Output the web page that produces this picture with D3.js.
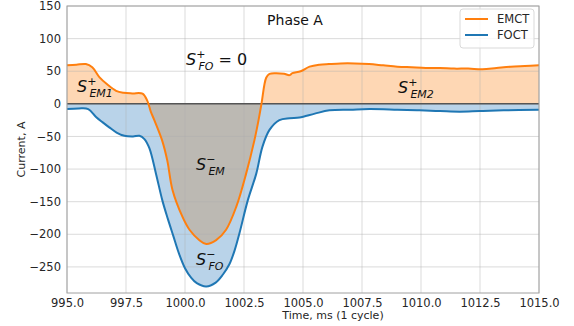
<!DOCTYPE html>
<html>
<head>
<meta charset="utf-8">
<script src="https://cdn.jsdelivr.net/npm/d3@7"></script>
<style>
  body { margin: 0; background: #fff; }
  text { font-family: "DejaVu Sans", sans-serif; }
</style>
</head>
<body>
<div id="chart"></div>
<script>
// Phase A - EMCT vs FOCT currents over one cycle

const width = 574,
    height = 326;
const margin = {top: 6, right: 35, bottom: 33, left: 67};

// readings
const emctTime = [995.0, 995.4, 995.8, 996.07, 996.37, 996.7, 997.08, 997.4, 997.77, 998.2, 998.4,
  998.55, 998.7, 999.03, 999.25, 999.47, 999.89, 1000.19, 1000.61, 1000.9, 1001.32, 1001.74,
  1002.17, 1002.59, 1002.94, 1003.1, 1003.24, 1003.44, 1003.58, 1003.86, 1004.2, 1004.43,
  1004.55, 1004.9, 1005.28, 1005.7, 1006.1, 1006.6, 1007.2, 1007.8, 1008.4, 1009.0, 1009.6,
  1010.2, 1010.8, 1011.4, 1012.0, 1012.6, 1013.2, 1013.8, 1014.4, 1015.0];
const emctValue = [59, 60, 61, 56, 41, 30, 20, 17, 16, 15.5, 5,
  -12, -25, -56, -87, -132, -173, -193, -209, -215, -209, -193,
  -158, -107, -56, -28, 0, 40, 46, 47, 46, 44,
  47, 50, 57, 60, 61, 62, 62, 61, 59, 57, 56,
  55, 55, 54, 54, 53, 55, 57, 58, 59];

const foctTime = [995.0, 995.5, 995.9, 996.23, 996.5, 996.79, 997.1, 997.43, 997.8, 998.07,
  998.28, 998.49, 998.77, 999.04, 999.27, 999.5, 999.75, 1000.0, 1000.25, 1000.5, 1000.9,
  1001.3, 1001.6, 1001.88, 1002.1, 1002.31, 1002.66, 1003.02, 1003.28, 1003.58, 1004.0,
  1004.43, 1004.85, 1005.5, 1006.12, 1007.0, 1007.82, 1009.0, 1009.94, 1010.8, 1011.64,
  1012.5, 1013.5, 1015.0];
const foctValue = [-8, -7, -8, -20, -28, -36, -44, -49, -50, -49,
  -54, -68, -107, -148, -176, -202, -230, -252, -266, -275, -280,
  -274, -262, -246, -225, -198, -148, -107, -66, -40, -25,
  -22, -21, -15, -10, -9, -8, -9, -10, -11, -12,
  -11, -10, -9];

const xTicks = [995.0, 997.5, 1000.0, 1002.5, 1005.0, 1007.5, 1010.0, 1012.5, 1015.0];
const yTicks = [150, 100, 50, 0, -50, -100, -150, -200, -250];

const emct = emctTime.map((t, i) => [t, emctValue[i]]);
const foct = foctTime.map((t, i) => [t, foctValue[i]]);

const svg = d3.select("#chart")
  .append("svg")
    .attr("width", width)
    .attr("height", height);

const x = d3.scaleLinear()
  .domain([995, 1015])
  .range([margin.left, width - margin.right]);

const y = d3.scaleLinear()
  .domain([-290, 150])
  .range([height - margin.bottom, margin.top]);

const curve = d3.curveCatmullRom.alpha(0.5);

// clip regions above / below zero
const defs = svg.append("defs");
defs.append("clipPath").attr("id", "above")
  .append("rect")
    .attr("x", x(995)).attr("y", y(150))
    .attr("width", x(1015) - x(995)).attr("height", y(0) - y(150));
defs.append("clipPath").attr("id", "below")
  .append("rect")
    .attr("x", x(995)).attr("y", y(0))
    .attr("width", x(1015) - x(995)).attr("height", y(-290) - y(0));

const area = d3.area()
  .x(d => x(d[0]))
  .y0(y(0))
  .y1(d => y(d[1]))
  .curve(curve);

// FOCT fill
svg.append("path")
  .datum(foct)
  .attr("d", area)
  .attr("fill", "#b9d3e9");

// EMCT fill, orange above zero, grey below
svg.append("path")
  .datum(emct)
  .attr("d", area)
  .attr("clip-path", "url(#above)")
  .attr("fill", "#fed7b4");
svg.append("path")
  .datum(emct)
  .attr("d", area)
  .attr("clip-path", "url(#below)")
  .attr("fill", "#bcb9b3");

// grid
svg.append("g")
  .selectAll("line")
  .data(xTicks)
  .join("line")
    .attr("x1", d => x(d)).attr("x2", d => x(d))
    .attr("y1", y(150)).attr("y2", y(-290))
    .attr("stroke", "#b0b0b0")
    .attr("stroke-opacity", 0.45)
    .attr("stroke-width", 1);
svg.append("g")
  .selectAll("line")
  .data(yTicks)
  .join("line")
    .attr("x1", x(995)).attr("x2", x(1015))
    .attr("y1", d => y(d)).attr("y2", d => y(d))
    .attr("stroke", "#b0b0b0")
    .attr("stroke-opacity", 0.45)
    .attr("stroke-width", 1);

// zero line
svg.append("line")
  .attr("x1", x(995)).attr("x2", x(1015))
  .attr("y1", y(0)).attr("y2", y(0))
  .attr("stroke", "#555")
  .attr("stroke-width", 1.5);

const line = d3.line()
  .x(d => x(d[0]))
  .y(d => y(d[1]))
  .curve(curve);

svg.append("path")
  .datum(foct)
  .attr("d", line)
  .attr("fill", "none")
  .attr("stroke", "#1f77b4")
  .attr("stroke-width", 2);

svg.append("path")
  .datum(emct)
  .attr("d", line)
  .attr("fill", "none")
  .attr("stroke", "#ff7f0e")
  .attr("stroke-width", 2);

// frame
svg.append("rect")
  .attr("x", x(995)).attr("y", y(150))
  .attr("width", x(1015) - x(995)).attr("height", y(-290) - y(150))
  .attr("fill", "none")
  .attr("stroke", "#a0a0a0")
  .attr("stroke-width", 1);

// axes
const fmtX = d3.format(".1f");
const xAxis = svg.append("g")
  .attr("transform", `translate(0, ${y(-290)})`)
  .call(d3.axisBottom(x).tickValues(xTicks).tickFormat(fmtX).tickSize(0).tickPadding(6));
const yAxis = svg.append("g")
  .attr("transform", `translate(${x(995)}, 0)`)
  .call(d3.axisLeft(y).tickValues(yTicks).tickFormat(d => d < 0 ? "\u2212" + Math.abs(d) : d).tickSize(0).tickPadding(6));
[xAxis, yAxis].forEach(g => {
  g.select(".domain").remove();
  g.selectAll("text")
    .style("font-family", "DejaVu Sans")
    .style("font-size", "11.5px")
    .attr("fill", "#262626");
});

svg.append("text")
  .attr("x", 333).attr("y", 319)
  .attr("text-anchor", "middle")
  .style("font-size", "11px")
  .attr("fill", "#262626")
  .text("Time, ms (1 cycle)");

svg.append("text")
  .attr("transform", `translate(25, ${(y(150) + y(-290)) / 2}) rotate(-90)`)
  .attr("text-anchor", "middle")
  .style("font-size", "11px")
  .attr("fill", "#262626")
  .text("Current, A");

svg.append("text")
  .attr("x", 295).attr("y", 25)
  .attr("text-anchor", "middle")
  .style("font-size", "14px")
  .attr("fill", "#111")
  .text("Phase A");

// S labels: italic S with superscript and subscript
function sLabel(px, py, sup, sub, tail) {
  const t = svg.append("text")
    .attr("x", px).attr("y", py)
    .attr("fill", "#111")
    .style("font-size", "16px");
  t.append("tspan").style("font-style", "italic").text("S");
  t.append("tspan").attr("dy", -7).style("font-size", "11px").text(sup);
  t.append("tspan").attr("dx", -7).attr("dy", 12).style("font-size", "11px")
    .style("font-style", "italic").text(sub);
  if (tail) t.append("tspan").attr("dy", -5).text(" " + tail);
}
sLabel(77, 92, "+", "EM1");
sLabel(398, 93, "+", "EM2");
sLabel(196, 170, "\u2212", "EM");
sLabel(196, 265, "\u2212", "FO");
sLabel(186, 65, "+", "FO", "= 0");

// legend
const legend = svg.append("g").attr("transform", "translate(460, 9)");
legend.append("rect")
  .attr("width", 74).attr("height", 39)
  .attr("rx", 3)
  .attr("fill", "#fff").attr("fill-opacity", 0.8)
  .attr("stroke", "#d9d9d9");
const series = [["EMCT", "#ff7f0e"], ["FOCT", "#1f77b4"]];
series.forEach((s, i) => {
  legend.append("line")
    .attr("x1", 5).attr("x2", 28)
    .attr("y1", 10 + i * 16).attr("y2", 10 + i * 16)
    .attr("stroke", s[1]).attr("stroke-width", 2);
  legend.append("text")
    .attr("x", 37).attr("y", 14 + i * 16)
    .style("font-size", "11.5px")
    .attr("fill", "#262626")
    .text(s[0]);
});
</script>
</body>
</html>
